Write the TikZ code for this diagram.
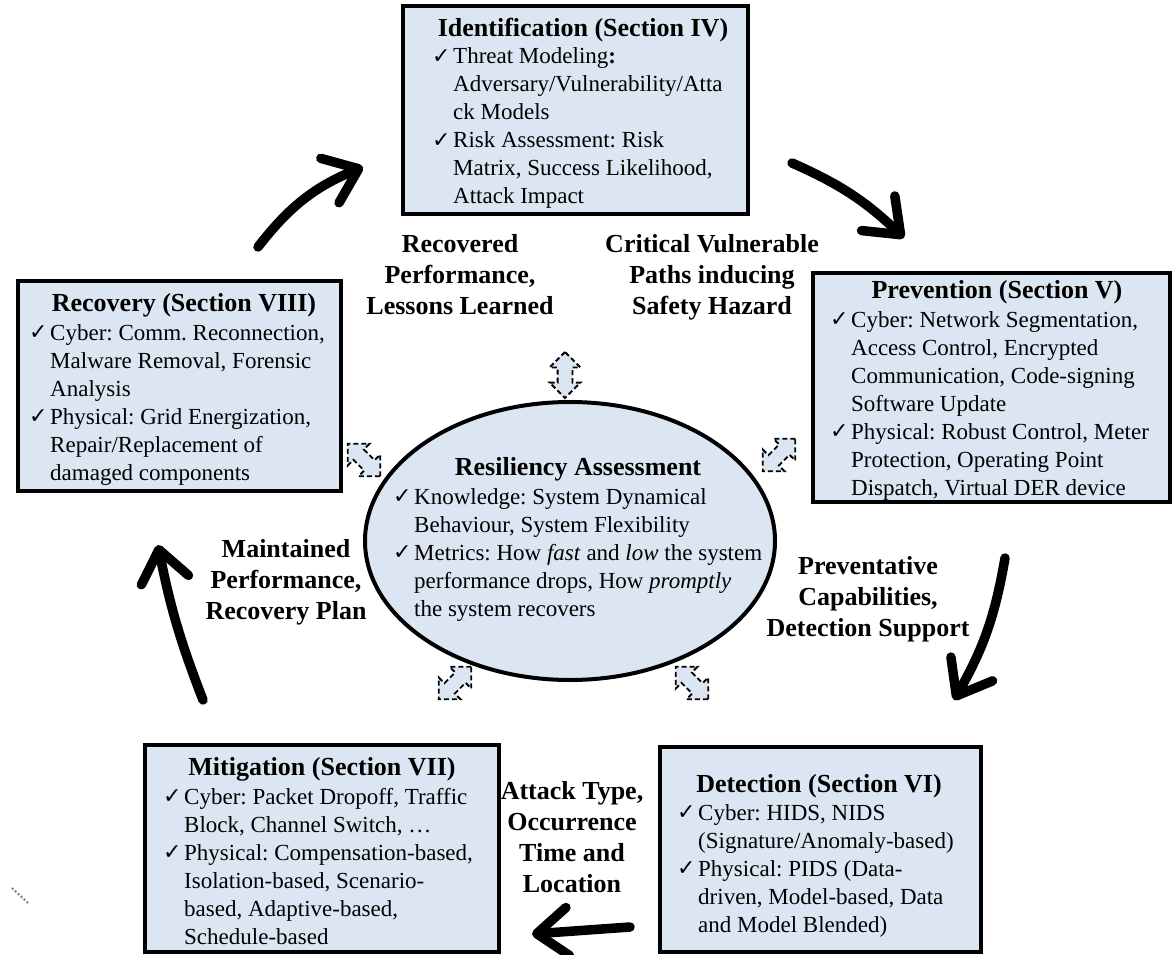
\documentclass[tikz,border=0pt]{standalone}
\usepackage{fontspec}
\setmainfont{Liberation Serif}
\newfontfamily\checkfont{DejaVu Sans}
\usetikzlibrary{arrows.meta,shapes.arrows,shapes.geometric}

\definecolor{panelblue}{HTML}{DCE6F2}

% check mark that opens every bullet line
\newcommand\tick{\makebox[21pt][l]{\checkfont\fontsize{22}{22}\selectfont\raisebox{0.5pt}{✓}}}
\newcommand\bodytext{\fontsize{23}{28}\selectfont}
\newcommand\headtext{\fontsize{26}{31}\selectfont\bfseries}
\frenchspacing

\tikzset{
  stagebox/.style={draw=black, line width=4pt, fill=panelblue, inner sep=0pt},
  heading/.style={anchor=base, inner sep=0pt, font=\headtext},
  items/.style={anchor=base west, inner sep=0pt, font=\bodytext},
  flowlabel/.style={anchor=base, inner sep=0pt, font=\headtext},
  cyclearrow/.style={line width=9.5pt, line cap=round,
    -{Straight Barb[length=31pt,width=48pt,round]}},
  linkarrow/.style={double arrow, draw=black, fill=panelblue,
    dash pattern=on 5pt off 3pt, line width=1.8pt,
    minimum height=46pt, double arrow head extend=8pt,
    inner xsep=0pt, inner ysep=6.5pt},
}

\begin{document}
\begin{tikzpicture}[x=1pt,y=-1pt]
\useasboundingbox (0,0) rectangle (1173,955);
\fill[white] (0,0) rectangle (1173,955);

% ---------- stage boxes ----------
\node[stagebox, minimum width=345pt, minimum height=208pt] (ident) at (575.5,110) {};
\node[heading] (identT) at (583,36.5) {Identification (Section IV)};
\node[items] (identL) at (432,64) {\begin{tabular}[t]{@{}l@{}l@{}}
\tick & Threat Modeling\textbf{:}\\
      & Adversary/Vulnerability/Atta\\
      & ck Models\\
\tick & Risk Assessment: Risk\\
      & Matrix, Success Likelihood,\\
      & Attack Impact
\end{tabular}};

\node[stagebox, minimum width=357pt, minimum height=229pt] (prevent) at (991.5,387.5) {};
\node[heading] (preventT) at (997,298.5) {Prevention (Section V)};
\node[items] (preventL) at (830,327) {\begin{tabular}[t]{@{}l@{}l@{}}
\tick & Cyber: Network Segmentation,\\
      & Access Control, Encrypted\\
      & Communication, Code-signing\\
      & Software Update\\
\tick & Physical: Robust Control, Meter\\
      & Protection, Operating Point\\
      & Dispatch, Virtual DER device
\end{tabular}};

\node[stagebox, minimum width=323pt, minimum height=210pt] (recover) at (179.5,386) {};
\node[heading] (recoverT) at (184,311.5) {Recovery (Section VIII)};
\node[items] (recoverL) at (29,340) {\begin{tabular}[t]{@{}l@{}l@{}}
\tick & Cyber: Comm. Reconnection,\\
      & Malware Removal, Forensic\\
      & Analysis\\
\tick & Physical: Grid Energization,\\
      & Repair/Replacement of\\
      & damaged components
\end{tabular}};

\node[stagebox, minimum width=354pt, minimum height=207pt] (mitig) at (322,848.5) {};
\node[heading] (mitigT) at (322,775.5) {Mitigation (Section VII)};
\node[items] (mitigL) at (163,804) {\begin{tabular}[t]{@{}l@{}l@{}}
\tick & Cyber: Packet Dropoff, Traffic\\
      & Block, Channel Switch, …\\
\tick & Physical: Compensation-based,\\
      & Isolation-based, Scenario-\\
      & based, Adaptive-based,\\
      & Schedule-based
\end{tabular}};

\node[stagebox, minimum width=321pt, minimum height=205pt] (detect) at (820.5,849.5) {};
\node[heading] (detectT) at (819,792.5) {Detection (Section VI)};
\node[items] (detectL) at (677,820) {\begin{tabular}[t]{@{}l@{}l@{}}
\tick & Cyber: HIDS, NIDS\\
      & (Signature/Anomaly-based)\\
\tick & Physical: PIDS (Data-\\
      & driven, Model-based, Data\\
      & and Model Blended)
\end{tabular}};

% ---------- central assessment ----------
\node[ellipse, draw=black, line width=4pt, fill=panelblue,
      minimum width=410pt, minimum height=278pt, inner sep=0pt] (assess) at (570,541) {};
\node[heading] (assessT) at (578,475.5) {Resiliency Assessment};
\node[items] (assessL) at (393,504) {\begin{tabular}[t]{@{}l@{}l@{}}
\tick & Knowledge: System Dynamical\\
      & Behaviour, System Flexibility\\
\tick & Metrics: How \textit{fast} and \textit{low} the system\\
      & performance drops, How \textit{promptly}\\
      & the system recovers
\end{tabular}};

% ---------- dashed two-way links to the assessment ----------
\node[linkarrow, rotate=90]  (lkTop) at (565,375) {};
\node[linkarrow, rotate=-45] (lkUL)  at (364,460) {};
\node[linkarrow, rotate=45]  (lkUR)  at (779,455) {};
\node[linkarrow, rotate=45]  (lkLL)  at (455,683) {};
\node[linkarrow, rotate=-45] (lkLR)  at (692,683) {};

% ---------- labels carried between stages ----------
\node[flowlabel] (lblRec) at (460,252) {\begin{tabular}[t]{@{}c@{}}Recovered\\Performance,\\Lessons Learned\end{tabular}};
\node[flowlabel] (lblCrit) at (712,252) {\begin{tabular}[t]{@{}c@{}}Critical Vulnerable\\Paths inducing\\Safety Hazard\end{tabular}};
\node[flowlabel] (lblMain) at (286,557) {\begin{tabular}[t]{@{}c@{}}Maintained\\Performance,\\Recovery Plan\end{tabular}};
\node[flowlabel] (lblPrev) at (868,574) {\begin{tabular}[t]{@{}c@{}}Preventative\\Capabilities,\\Detection Support\end{tabular}};
\node[flowlabel] (lblAtk) at (572,799) {\begin{tabular}[t]{@{}c@{}}Attack Type,\\Occurrence\\Time and\\Location\end{tabular}};

% ---------- cycle arrows ----------
\coordinate (tlS) at (258,247);  \coordinate (tlE) at (363,167);
\coordinate (trS) at (792,163);  \coordinate (trE) at (904,238);
\coordinate (rS)  at (1005,558); \coordinate (rE)  at (954,700);
\coordinate (bS)  at (630,927);  \coordinate (bE)  at (532,934);
\coordinate (lS)  at (203,700);  \coordinate (lE)  at (158,545);

\draw[cyclearrow] (tlS) to[bend left=15] (tlE);
\draw[cyclearrow] (trS) to[bend left=10] (trE);
\draw[cyclearrow] (rS)  to[bend left=10] (rE);
\draw[cyclearrow] (bS)  -- (bE);
\draw[cyclearrow] (lS)  to[bend left=5] (lE);

% stray dotted mark in the lower corner
\coordinate (dotA) at (12,888); \coordinate (dotB) at (28,903);
\draw[line width=2pt, gray, dotted] (dotA) -- (dotB);
\end{tikzpicture}
\end{document}
